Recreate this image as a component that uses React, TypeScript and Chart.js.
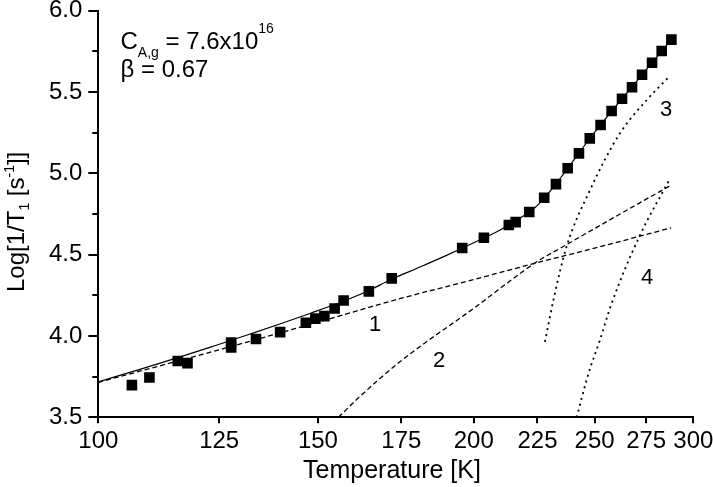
import React, { useEffect, useRef } from 'react';
import { Chart, registerables } from 'chart.js';

Chart.register(...registerables);

// Experimental data: temperature [K] and Log[1/T1]
const expT = [106.4, 109.9, 115.8, 117.9, 127.8, 127.8, 133.8, 139.9, 146.7, 149.3, 151.8, 154.7, 157.3, 164.8, 171.9, 195.8, 203.8, 213.4, 216.1, 221.6, 227.8, 232.8, 237.9, 242.9, 247.8, 252.8, 258.0, 263.0, 267.9, 272.9, 278.0, 283.0, 288.1];
const expLog = [3.698, 3.745, 3.846, 3.833, 3.959, 3.929, 3.981, 4.024, 4.081, 4.107, 4.122, 4.169, 4.218, 4.274, 4.354, 4.541, 4.604, 4.682, 4.700, 4.762, 4.850, 4.934, 5.031, 5.123, 5.215, 5.297, 5.383, 5.459, 5.529, 5.606, 5.680, 5.752, 5.822];

// Total fit (solid)
const fitT = [100, 108, 116, 124, 132, 140, 148, 156, 164, 172, 180, 190, 200, 210, 220, 224, 228, 232, 236, 240, 244, 248, 252, 256, 260, 264, 268, 272, 276, 280, 284, 288];
const fitLog = [3.718, 3.795, 3.868, 3.940, 4.009, 4.075, 4.140, 4.204, 4.272, 4.350, 4.415, 4.494, 4.573, 4.652, 4.745, 4.79, 4.852, 4.92, 4.995, 5.07, 5.145, 5.218, 5.285, 5.35, 5.413, 5.474, 5.532, 5.592, 5.651, 5.708, 5.765, 5.82];

// Component curves
const c1T = [100, 125, 150, 175, 200, 225, 250, 288];
const c1Log = [3.715, 3.915, 4.085, 4.232, 4.347, 4.451, 4.540, 4.665];
const c2T = [155.8, 162, 174.5, 200, 224.7, 234.6, 260, 288];
const c2Log = [3.5, 3.626, 3.841, 4.17, 4.456, 4.539, 4.735, 4.928];
const c3T = [228.1, 232, 237.4, 248, 262, 275.3, 286.5];
const c3Log = [3.964, 4.24, 4.549, 4.90, 5.246, 5.451, 5.59];
const c4T = [241.9, 247, 252.5, 258, 271.5, 287.4];
const c4Log = [3.5, 3.76, 3.975, 4.20, 4.61, 4.969];

// Axes
const xTicks = [100, 125, 150, 175, 200, 225, 250, 275, 300];
const yMajor = [3.5, 4.0, 4.5, 5.0, 5.5, 6.0];
const yMinor = [3.75, 4.25, 4.75, 5.25, 5.75];

const FAMILY = '"Liberation Sans", Arial, sans-serif';
const F = (s: number) => `${s}px ${FAMILY}`;

const pts = (xs: number[], ys: number[]) => xs.map((x, i) => ({ x, y: ys[i] }));

const textPlugin = {
  id: 'texts',
  afterDraw(chart: any) {
    const ctx = chart.ctx as CanvasRenderingContext2D;
    ctx.save();
    ctx.fillStyle = '#000';
    ctx.textBaseline = 'alphabetic';

    // X title
    ctx.font = F(25);
    ctx.textAlign = 'center';
    ctx.fillText('Temperature [K]', 392, 478);

    // Y title (rotated)
    ctx.save();
    ctx.translate(24, 292);
    ctx.rotate(-Math.PI / 2);
    ctx.textAlign = 'left';
    let x = 0;
    const seg = (t: string, size: number, dy: number) => {
      ctx.font = F(size);
      ctx.fillText(t, x, dy);
      x += ctx.measureText(t).width;
    };
    seg('Log[1/T', 24, 0);
    seg('1', 14, 5);
    seg(' [s', 24, 0);
    seg('-1', 14, -10);
    seg(']]', 24, 0);
    ctx.restore();

    // Parameter annotation
    ctx.textAlign = 'left';
    x = 120.5;
    const seg2 = (t: string, size: number, y: number) => {
      ctx.font = F(size);
      ctx.fillText(t, x, y);
      x += ctx.measureText(t).width;
    };
    seg2('C', 24, 49);
    seg2('A,g', 14, 57);
    seg2(' = 7.6x10', 24, 49);
    seg2('16', 14, 33);
    ctx.font = F(24);
    ctx.fillText('\u03B2 = 0.67', 120.5, 77);

    // Curve labels
    ctx.font = F(22);
    ctx.textAlign = 'center';
    ctx.fillText('1', 375, 331);
    ctx.fillText('2', 439, 367);
    ctx.fillText('3', 666, 116);
    ctx.fillText('4', 647, 284);

    ctx.restore();
  },
};

export default function App() {
  const ref = useRef<HTMLCanvasElement>(null);

  useEffect(() => {
    document.body.style.margin = '0';
    const canvas = ref.current;
    if (!canvas) return;
    const lineDs = (data: any, dash: number[], width: number) => ({
      data,
      showLine: true,
      pointRadius: 0,
      borderColor: '#000',
      backgroundColor: '#000',
      borderWidth: width,
      borderDash: dash,
      cubicInterpolationMode: 'monotone',
      xAxisID: 'x',
      yAxisID: 'y',
    });
    const chart = new Chart(canvas, {
      type: 'scatter',
      data: {
        datasets: [
          {
            data: pts(expT, expLog),
            showLine: false,
            pointStyle: 'rect',
            pointRadius: 7.5,
            pointBackgroundColor: '#000',
            pointBorderWidth: 0,
            borderWidth: 0,
            backgroundColor: '#000',
            borderColor: '#000',
            xAxisID: 'x',
            yAxisID: 'y',
          } as any,
          lineDs(pts(fitT, fitLog), [], 1.2),
          lineDs(pts(c1T, c1Log), [5, 3], 1.3),
          lineDs(pts(c2T, c2Log), [5, 3], 1.3),
          lineDs(pts(c3T, c3Log), [2, 4], 1.8),
          lineDs(pts(c4T, c4Log), [2, 4], 1.8),
        ],
      },
      options: {
        responsive: false,
        animation: false,
        devicePixelRatio: 1,
        layout: { padding: { top: 10.7, right: 19.7, bottom: 0, left: 0 } },
        plugins: {
          legend: { display: false },
          tooltip: { enabled: false },
          title: { display: false },
        },
        scales: {
          x: {
            type: 'logarithmic',
            position: 'bottom',
            min: 100,
            max: 300,
            afterBuildTicks: (s: any) => {
              s.ticks = xTicks.map((v) => ({ value: v }));
            },
            afterFit: (s: any) => {
              s.height = 69.7;
              s.paddingLeft = 0;
              s.paddingRight = 0;
            },
            ticks: {
              autoSkip: false,
              maxRotation: 0,
              minRotation: 0,
              padding: 4,
              color: '#000',
              font: { family: FAMILY, size: 24 },
              callback: (v: any) => String(v),
            },
            grid: { drawOnChartArea: false, drawTicks: true, tickLength: 6, lineWidth: 2, color: '#000' },
            border: { display: true, width: 2, color: '#000' },
          },
          y: {
            type: 'linear',
            position: 'left',
            min: 3.5,
            max: 6,
            weight: 1,
            afterBuildTicks: (s: any) => {
              s.ticks = yMajor.map((v) => ({ value: v }));
            },
            afterFit: (s: any) => {
              s.width = 98.3;
              s.paddingTop = 0;
              s.paddingBottom = 0;
            },
            ticks: {
              padding: 6,
              color: '#000',
              font: { family: FAMILY, size: 24 },
              callback: (v: any) => Number(v).toFixed(1),
            },
            grid: { drawOnChartArea: false, drawTicks: true, tickLength: 10, lineWidth: 2, color: '#000' },
            border: { display: true, width: 2, color: '#000' },
          },
          yMinor: {
            type: 'linear',
            position: 'left',
            min: 3.5,
            max: 6,
            weight: 0,
            afterBuildTicks: (s: any) => {
              s.ticks = yMinor.map((v) => ({ value: v }));
            },
            afterFit: (s: any) => {
              s.width = 0;
              s.paddingTop = 0;
              s.paddingBottom = 0;
            },
            ticks: { display: false },
            grid: { drawOnChartArea: false, drawTicks: true, tickLength: 6, lineWidth: 2, color: '#000' },
            border: { display: false },
          },
        },
      } as any,
      plugins: [textPlugin],
    });
    return () => chart.destroy();
  }, []);

  return <canvas ref={ref} width={713} height={487} style={{ display: 'block', width: 713, height: 487 }} />;
}
